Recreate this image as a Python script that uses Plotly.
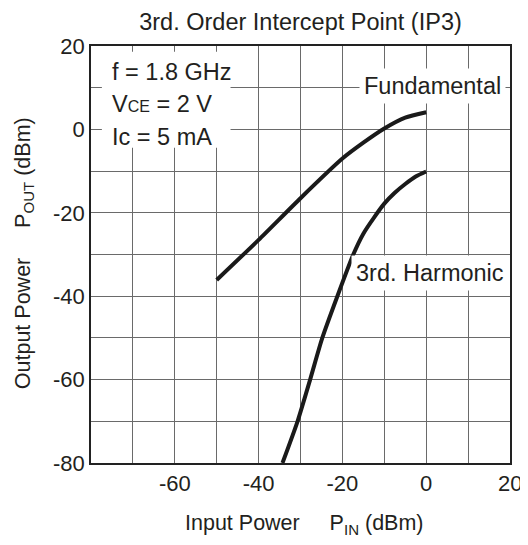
import plotly.graph_objects as go

# Data
fund_x = [-50, -40, -30, -20, -15, -10, -5, 0]
fund_y = [-36.1, -26.5, -16.5, -7.0, -3.2, 0.2, 2.8, 4.1]

harm_x = [-34.3, -30.7, -27.7, -24.8, -21.2, -17.4, -15, -12.5, -10, -7.5, -5, -2.5, 0]
harm_y = [-80, -70, -60, -50, -40, -30, -25, -21.2, -17.8, -15.2, -13.1, -11.3, -10.1]

x_ticks = [-80, -70, -60, -50, -40, -30, -20, -10, 0, 10, 20]
x_labels = ["", "", "-60", "", "-40", "", "-20", "", "0", "", ""]
x_end_label = "20"          # drawn at the axis end (x = 20) so it can sit on the figure edge
x_end_value = 20
y_ticks = [-80, -70, -60, -50, -40, -30, -20, -10, 0, 10, 20]
y_labels = ["-80", "", "-60", "", "-40", "", "-20", "", "0", "", "20"]

FONT = "Liberation Sans, Arial, Helvetica, sans-serif"
TXT = "#231f20"
FS_TICK = 22
FS = 23.5

fig = go.Figure()
fig.add_trace(go.Scatter(x=fund_x, y=fund_y, mode="lines",
                         line=dict(color="#1a1a1a", width=4, shape="spline", smoothing=0.6),
                         showlegend=False, hoverinfo="skip"))
fig.add_trace(go.Scatter(x=harm_x, y=harm_y, mode="lines",
                         line=dict(color="#1a1a1a", width=4, shape="spline", smoothing=0.6),
                         showlegend=False, hoverinfo="skip"))

axis_common = dict(showgrid=True, gridcolor="#6a6a6a", gridwidth=1, zeroline=False,
                   showline=True, linecolor="#222", linewidth=1.5, mirror=True,
                   ticks="", tickfont=dict(family=FONT, size=FS_TICK, color=TXT))

fig.update_xaxes(range=[-80, 20], tickmode="array", tickvals=x_ticks, ticktext=x_labels, **axis_common)
fig.update_yaxes(range=[-80, 20], tickmode="array", tickvals=y_ticks, ticktext=y_labels, **axis_common)

# end-of-axis tick label
fig.add_annotation(xref="x", yref="paper", x=x_end_value, y=-0.05, text=x_end_label, showarrow=False,
                   font=dict(family=FONT, size=FS_TICK, color=TXT), xanchor="center", yanchor="middle")

# white info box
fig.add_shape(type="rect", xref="x", yref="y", x0=-77.4, x1=-46.7, y0=-4.4, y1=18.6,
              fillcolor="white", line=dict(width=0), layer="above")

ann_font = dict(family=FONT, size=FS, color=TXT)
anns = [
    dict(x=-75.5, y=13.8, text="f = 1.8 GHz", xanchor="left"),
    dict(x=-75.5, y=6.1, text="V<span style='font-size:16px'>CE</span> = 2 V", xanchor="left"),
    dict(x=-75.5, y=-1.8, text="Ic = 5 mA", xanchor="left"),
]
for a in anns:
    fig.add_annotation(xref="x", yref="y", yanchor="middle", showarrow=False, font=ann_font, **a)

fig.add_annotation(xref="x", yref="y", x=1.4, y=10.3, text="Fundamental", showarrow=False,
                   font=ann_font, bgcolor="white", borderpad=4, xanchor="center", yanchor="middle")
fig.add_annotation(xref="x", yref="y", x=1.0, y=-34.5, text="3rd. Harmonic", showarrow=False,
                   font=ann_font, bgcolor="white", borderpad=4, xanchor="center", yanchor="middle")

title_font = dict(family=FONT, size=21.5, color=TXT)
# axis titles
fig.add_annotation(xref="paper", yref="paper", x=0.51, y=-0.148, text="Input Power     P<sub>IN</sub> (dBm)",
                   showarrow=False, font=title_font, xanchor="center", yanchor="middle")
fig.add_annotation(xref="paper", yref="paper", x=-0.159, y=0.504, text="Output Power     P<sub>OUT</sub> (dBm)",
                   showarrow=False, font=title_font, textangle=-90, xanchor="center", yanchor="middle")

# the page body adds an 8px margin on every side; keep the page inside the 528x545 window
fig.update_layout(
    width=512, height=529,
    margin=dict(l=83, r=8, t=38, b=74),
    paper_bgcolor="white", plot_bgcolor="white",
    title=dict(text="3rd. Order Intercept Point (IP3)", x=0.5, xref="paper",
               y=1 - 14 / 529, yref="container", yanchor="middle", xanchor="center",
               font=dict(family=FONT, size=FS, color=TXT)),
)

# let the edge label "20" draw past the svg box, but clip everything at the window edge
post = ("var gd=document.getElementById('{plot_id}');"
        "var w=gd.parentElement;"
        "w.style.width='520px';w.style.height='529px';w.style.overflow='hidden';"
        "gd.querySelectorAll('.draglayer').forEach(function(e){e.style.display='none';});"
        "gd.querySelectorAll('svg.main-svg, .svg-container').forEach(function(e){"
        "e.style.setProperty('overflow','visible','important');});")
fig.write_html("out.html", config={"displayModeBar": False}, post_script=post)
